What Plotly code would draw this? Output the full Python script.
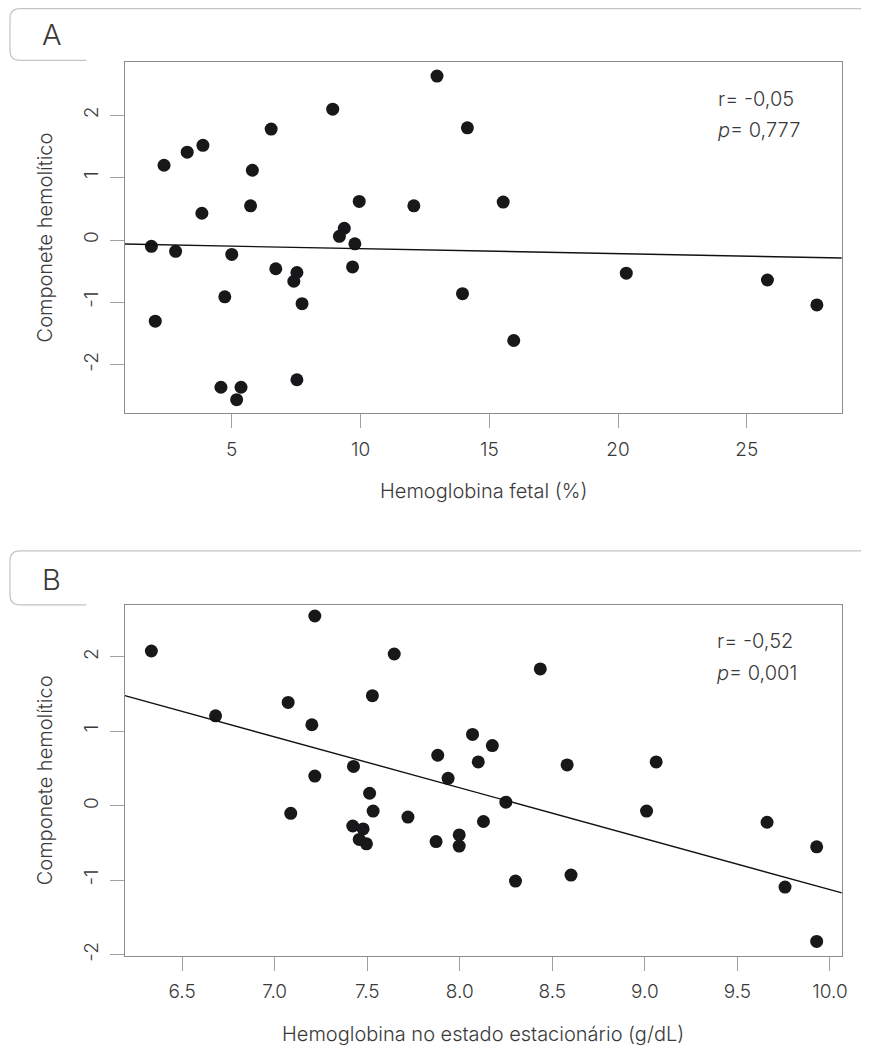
import plotly.graph_objects as go

# ---------------- data ----------------
# Panel A: Hemoglobina fetal (%) vs Componente hemolítico
hbf_pct = [1.88, 2.82, 5.00, 2.37, 3.27, 3.88, 3.84, 5.80, 5.73, 6.53, 8.92, 12.97,
           9.18, 9.37, 9.78, 9.95, 12.07, 14.15, 15.54, 13.96, 15.95, 20.32, 25.80,
           27.72, 6.71, 7.53, 7.41, 7.73, 4.73, 2.03, 4.58, 5.36, 5.19, 7.53, 9.69]
hemol_a = [-0.10, -0.18, -0.23, 1.20, 1.41, 1.52, 0.43, 1.12, 0.55, 1.78, 2.10, 2.63,
           0.06, 0.19, -0.06, 0.62, 0.55, 1.80, 0.61, -0.86, -1.61, -0.53, -0.64,
           -1.04, -0.46, -0.52, -0.66, -1.02, -0.91, -1.30, -2.36, -2.36, -2.56, -2.24, -0.43]
fit_a_intercept = -0.057
fit_a_slope = -0.00805
stats_a = ["r= -0,05", "<i>p</i>= 0,777"]

# Panel B: Hemoglobina no estado estacionário (g/dL) vs Componente hemolítico
hb_steady = [6.334, 7.217, 7.646, 6.681, 7.073, 7.528, 7.201, 7.881, 7.426, 7.217,
             7.513, 7.937, 8.069, 8.176, 8.100, 7.087, 7.532, 7.720, 7.422, 7.478,
             7.457, 7.496, 7.872, 7.997, 7.997, 8.128, 8.435, 8.580, 9.061, 8.249,
             9.009, 9.660, 9.928, 8.301, 8.601, 9.757, 9.928]
hemol_b = [2.08, 2.55, 2.04, 1.21, 1.39, 1.48, 1.09, 0.68, 0.53, 0.40,
           0.17, 0.37, 0.96, 0.81, 0.59, -0.10, -0.07, -0.15, -0.27, -0.31,
           -0.45, -0.51, -0.48, -0.39, -0.54, -0.21, 1.84, 0.55, 0.59, 0.05,
           -0.07, -0.22, -0.55, -1.01, -0.93, -1.09, -1.82]
fit_b_intercept = 5.715
fit_b_slope = -0.684
stats_b = ["r= -0,52", "<i>p</i>= 0,001"]

xticks_a = [5, 10, 15, 20, 25]
xticklabels_a = ["5", "10", "15", "20", "25"]
xticks_b = [6.5, 7.0, 7.5, 8.0, 8.5, 9.0, 9.5, 10.0]
xticklabels_b = ["6.5", "7.0", "7.5", "8.0", "8.5", "9.0", "9.5", "10.0"]
yticks = [-2, -1, 0, 1, 2]
yticklabels = ["-2", "-1", "0", "1", "2"]
xrange_a = [0.85, 28.69]
yrange_a = [-2.779, 2.850]
xrange_b = [6.191, 10.064]
yrange_b = [-2.01, 2.70]

# ---------------- layout helpers ----------------
OFF = 8                      # default page margin around the plot div
W, H = 869 - OFF, 1053 - OFF
def px(x):
    return (x - OFF) / W
def py(y):
    return 1 - (y - OFF) / H

FONT = "Inter"
TXT = "#3a3a3a"
BOXC = "#8c8c8c"
TICKC = "#a0a0a0"
DOT = "#18181b"

fig = go.Figure()

fig.add_trace(go.Scatter(x=hbf_pct, y=hemol_a, mode="markers",
                         marker=dict(size=13, color=DOT), xaxis="x", yaxis="y",
                         showlegend=False, hoverinfo="skip"))
fig.add_trace(go.Scatter(x=xrange_a,
                         y=[fit_a_intercept + fit_a_slope * v for v in xrange_a],
                         mode="lines", line=dict(color="#111111", width=1.4),
                         xaxis="x", yaxis="y", showlegend=False, hoverinfo="skip"))
fig.add_trace(go.Scatter(x=hb_steady, y=hemol_b, mode="markers",
                         marker=dict(size=13, color=DOT), xaxis="x2", yaxis="y2",
                         showlegend=False, hoverinfo="skip"))
fig.add_trace(go.Scatter(x=xrange_b,
                         y=[fit_b_intercept + fit_b_slope * v for v in xrange_b],
                         mode="lines", line=dict(color="#111111", width=1.4),
                         xaxis="x2", yaxis="y2", showlegend=False, hoverinfo="skip"))

tickfont = dict(family=FONT, size=19, color=TXT, weight=300)

def xaxis(dom, rng, tv, tt, anchor="y"):
    return dict(domain=dom, range=rng, tickvals=tv, ticktext=tt, showgrid=False,
                zeroline=False, showline=True, mirror=True, linecolor=BOXC,
                linewidth=1.2, ticks="outside", ticklen=14, tickwidth=1,
                tickcolor=TICKC, tickfont=tickfont, anchor=anchor, fixedrange=True,
                ticklabelstandoff=5)

def yaxis(dom, rng, anchor="x"):
    return dict(domain=dom, range=rng, tickvals=yticks, ticktext=yticklabels,
                showgrid=False, zeroline=False, showline=True, mirror=True,
                linecolor=BOXC, linewidth=1.2, ticks="outside", ticklen=14,
                tickwidth=1, tickcolor=TICKC, tickfont=tickfont, tickangle=-90,
                anchor=anchor, fixedrange=True, ticklabelstandoff=4)

xdom = [px(125.7), px(847.7)]
fig.update_layout(
    width=W, height=H, margin=dict(l=0, r=0, t=0, b=0),
    paper_bgcolor="white", plot_bgcolor="white",
    xaxis=xaxis(xdom, xrange_a, xticks_a, xticklabels_a, anchor="y"),
    yaxis=yaxis([py(415.7), py(62.7)], yrange_a, anchor="x"),
    xaxis2=xaxis(xdom, xrange_b, xticks_b, xticklabels_b, anchor="y2"),
    yaxis2=yaxis([py(961), py(608.3)], yrange_b, anchor="x2"),
)

ann = []
def txt(x, y, s, size=20, xanchor="center", angle=0):
    ann.append(dict(x=x, y=y, xref="paper", yref="paper", text=s, showarrow=False,
                    xanchor=xanchor, yanchor="middle", textangle=angle,
                    font=dict(family=FONT, size=size, color=TXT, weight=300)))

xc = (xdom[0] + xdom[1]) / 2
# axis titles
txt(px(45), py(239), "Componete hemolítico", angle=-90)
txt(xc, py(494), "Hemoglobina fetal (%)")
txt(px(45), py(785), "Componete hemolítico", angle=-90)
txt(xc, py(1040), "Hemoglobina no estado estacionário (g/dL)")
# statistics
txt(px(721), py(99.3), stats_a[0], xanchor="left")
txt(px(721), py(130.7), stats_a[1], xanchor="left")
txt(px(720), py(645), stats_b[0], xanchor="left")
txt(px(720), py(677), stats_b[1], xanchor="left")
# panel letters
txt(px(52), py(35), "A", size=29)
txt(px(52), py(583), "B", size=29)
fig.update_layout(annotations=ann)

def label_box(top, bottom):
    r = 10
    top = max(top, OFF + 0.7)
    path = (f"M {px(87)},{py(bottom)} L {px(10 + r)},{py(bottom)} "
            f"Q {px(10)},{py(bottom)} {px(10)},{py(bottom - r)} "
            f"L {px(10)},{py(top + r)} Q {px(10)},{py(top)} {px(10 + r)},{py(top)} "
            f"L {px(869)},{py(top)}")
    return dict(type="path", path=path, xref="paper", yref="paper",
                line=dict(color="#c4c4c4", width=1.2))

fig.update_layout(shapes=[label_box(6.7, 60.7), label_box(554, 608.3)])

fig.write_html("out.html")
